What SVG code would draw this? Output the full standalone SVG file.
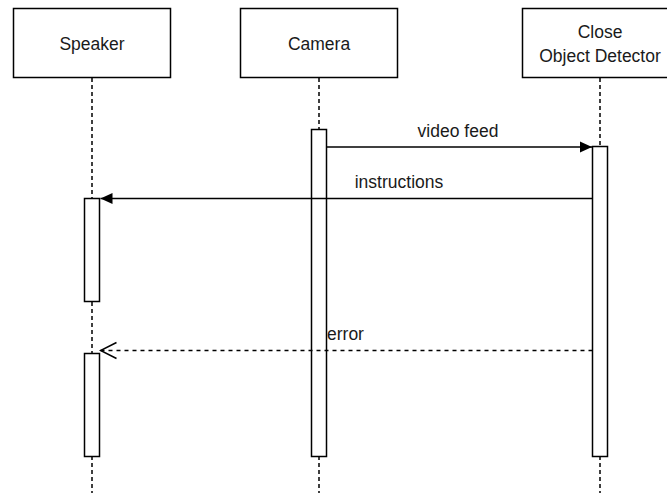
<svg xmlns="http://www.w3.org/2000/svg" width="667" height="493" viewBox="0 0 667 493">
  <style>
    .box { fill: #ffffff; stroke: #000000; stroke-width: 1.5; }
    .life { stroke: #000000; stroke-width: 1.5; stroke-dasharray: 4 3; fill: none; }
    .act { fill: #ffffff; stroke: #000000; stroke-width: 1.5; }
    .msg { stroke: #000000; stroke-width: 1.5; fill: none; }
    .ret { stroke: #000000; stroke-width: 1.5; fill: none; stroke-dasharray: 4 4; }
    text { font-family: "Liberation Sans", Arial, sans-serif; font-size: 17.5px; fill: #1a1a1a; }
    .c { text-anchor: middle; }
  </style>
  <defs>
    <marker id="block" markerWidth="13" markerHeight="12" refX="12" refY="6" orient="auto" markerUnits="userSpaceOnUse">
      <path d="M0,0.5 L12,6 L0,11.5 Z" fill="#000000"/>
    </marker>
    <marker id="open" markerWidth="19" markerHeight="20" refX="17" refY="10" orient="auto" markerUnits="userSpaceOnUse">
      <path d="M1,2 L17,10 L1,18" fill="none" stroke="#000000" stroke-width="1.5"/>
    </marker>
  </defs>
  <rect width="667" height="493" fill="#ffffff"/>

  <!-- lifelines -->
  <g id="lifelines">
    <line class="life" x1="92" y1="78" x2="92" y2="493"/>
    <line class="life" x1="319" y1="78" x2="319" y2="493"/>
    <line class="life" x1="600" y1="78" x2="600" y2="493"/>
  </g>

  <g id="speaker">
    <rect class="box" x="13.5" y="8.5" width="157" height="69"/>
    <text class="c" x="92" y="49.5">Speaker</text>
    <rect class="act" x="84.5" y="198.5" width="15" height="103"/>
    <rect class="act" x="84.5" y="353.5" width="15" height="103"/>
  </g>

  <g id="camera">
    <rect class="box" x="240.5" y="8.5" width="157" height="69"/>
    <text class="c" x="319" y="49.5">Camera</text>
    <rect class="act" x="311.5" y="129.5" width="15" height="327"/>
  </g>

  <g id="detector">
    <rect class="box" x="522.5" y="8.5" width="157" height="69"/>
    <text class="c" x="600" y="38">Close</text>
    <text class="c" x="600" y="61.5">Object Detector</text>
    <rect class="act" x="592.5" y="146.5" width="15" height="310"/>
  </g>

  <g id="connectors">
    <line class="msg" x1="326.5" y1="147" x2="592" y2="147" marker-end="url(#block)"/>
    <text class="c" x="458" y="137">video feed</text>
    <line class="msg" x1="592.5" y1="198.5" x2="100.5" y2="198.5" marker-end="url(#block)"/>
    <text class="c" x="399" y="188">instructions</text>
    <line class="ret" x1="592.5" y1="350.5" x2="100.5" y2="350.5" marker-end="url(#open)"/>
    <text x="327" y="340">error</text>
  </g>
</svg>
